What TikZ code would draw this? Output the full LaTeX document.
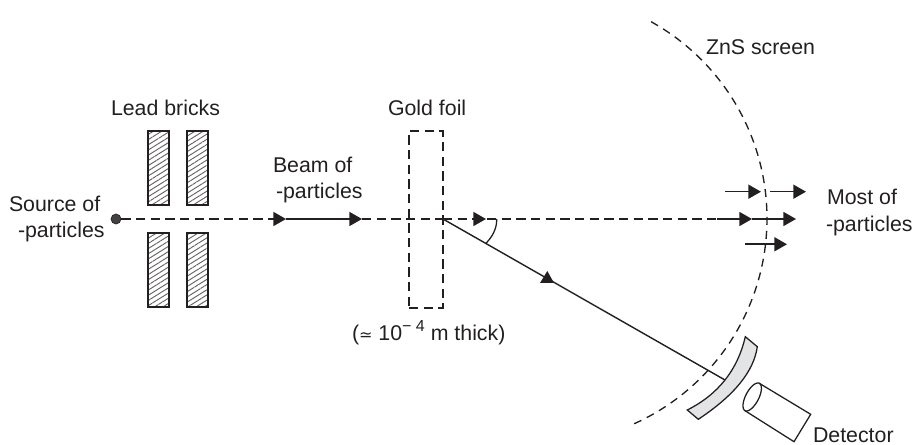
\documentclass[tikz,border=0pt]{standalone}
\usepackage{fontspec}
\setmainfont{Liberation Sans}
\newfontfamily\symfont{DejaVu Sans}
\usetikzlibrary{arrows.meta,patterns.meta}
\definecolor{ink}{HTML}{231F20}
\definecolor{plate}{HTML}{E3E4E5}
\tikzset{
  lbl/.style={anchor=base west,inner sep=0pt,outer sep=0pt,text=ink,font=\fontsize{16}{18}\selectfont},
  brick/.style={draw=ink,line width=1.5pt,minimum width=15.75pt,minimum height=55.5pt,inner sep=0pt,outer sep=0pt,
    pattern={Lines[angle=32,distance=3.3pt,line width=.7pt]},pattern color=ink!70},
  foil/.style={draw=ink,line width=1.2pt,dash pattern=on 7pt off 4pt,minimum width=25.5pt,minimum height=132.75pt,inner sep=0pt,outer sep=0pt},
  beamd/.style={draw=ink,line width=1.2pt,dash pattern=on 7pt off 4pt},
  beams/.style={draw=ink,line width=1.2pt},
  thin/.style={draw=ink,line width=.95pt},
  tip/.style={-{Triangle[length=9.5pt,width=10.5pt,color=ink]}},
}
\begin{document}
\begin{tikzpicture}[x=0.75pt,y=-0.75pt]
\useasboundingbox (0,0) rectangle (914,445);
% bricks
\node[brick] (b1) at (158.5,168) {};
\node[brick] (b2) at (197.5,168) {};
\node[brick] (b3) at (158.5,270) {};
\node[brick] (b4) at (197.5,270) {};
% foil
\node[foil] (foil) at (426,219.5) {};
% source
\node[circle,fill=ink!85,draw=ink,line width=.5pt,minimum size=7.5pt,inner sep=0pt] (src) at (116,219) {};
% beam points
\coordinate (t1) at (286,219);
\coordinate (t2) at (362,219);
\coordinate (hit) at (443,219);
\coordinate (t3) at (486,219);
\coordinate (s0) at (717,219);
\coordinate (t4) at (752,219);
\coordinate (t5) at (796,219);
\coordinate (end) at (725,380);
% beam
\draw[beamd,tip] (src) -- (t1);
\draw[beams,tip] (t1) -- (t2);
\draw[beamd] (t2) -- (hit);
\draw[beamd] (hit) -- (s0);
\draw[beamd,tip] (hit) -- (t3);
\draw[beams,tip] (s0) -- (t4);
\draw[beams,tip] (t4) -- (t5);
% screen
\draw[ink,line width=1pt,dash pattern=on 6pt off 4.5pt] plot[domain=-61:66,samples=70,smooth] ({542+225*cos(\x)},{218.5+225*sin(\x)});
% plate
\draw[thin,fill=plate] (745.3,336.7) -- (757.3,346.7) .. controls (753.9,371.3) and (734.2,395.5) .. (698.3,419.3) -- (687.3,410) .. controls (718.2,394.4) and (737.6,370) .. cycle;
% scattered
\draw[thin,line width=1.05pt] (hit) -- (end);
\fill[ink] (540,283) -- (554,283) -- (547.3,271) -- cycle;
\draw[thin] (496.7,219) .. controls (497,229) and (492,237) .. (486,243.3);
% upper and lower arrows
\coordinate (a1) at (725,191.7); \coordinate (a2) at (761,191.7);
\coordinate (a3) at (770,191.7); \coordinate (a4) at (806,191.7);
\coordinate (a5) at (745,244.3); \coordinate (a6) at (787,244.3);
\draw[beams,tip] (a1) -- (a2);
\draw[beams,tip] (a3) -- (a4);
\draw[beams,tip] (a5) -- (a6);
% detector
\draw[thin,fill=white] (759.3,383.3) -- (810.7,414.3) -- (794,441.7) -- (745,410.7);
\draw[thin] plot[domain=0:360,samples=50,smooth cycle] ({752.2+7.15*cos(\x)+5.8*sin(\x)},{397-13.7*cos(\x)+3.0*sin(\x)});
% labels
\node[lbl] (l1) at (111,116) {Lead bricks};
\node[lbl] (l2) at (388,116) {Gold foil};
\node[lbl] (l3) at (9,212) {Source of};
\node[lbl] (l4) at (18,238) {-particles};
\node[lbl] (l5) at (273,173) {Beam of};
\node[lbl] (l6) at (276,199) {-particles};
\node[lbl] (l7) at (352,340) {({\symfont\fontsize{12}{12}\selectfont ≃} 10\raisebox{6pt}{\fontsize{12}{12}\selectfont − 4} m thick)};
\node[lbl] (l8) at (827,205) {Most of};
\node[lbl] (l9) at (826,232) {-particles};
\node[lbl] (l10) at (706,55) {ZnS screen};
\node[lbl] (l11) at (813,442) {Detector};
\end{tikzpicture}
\end{document}
